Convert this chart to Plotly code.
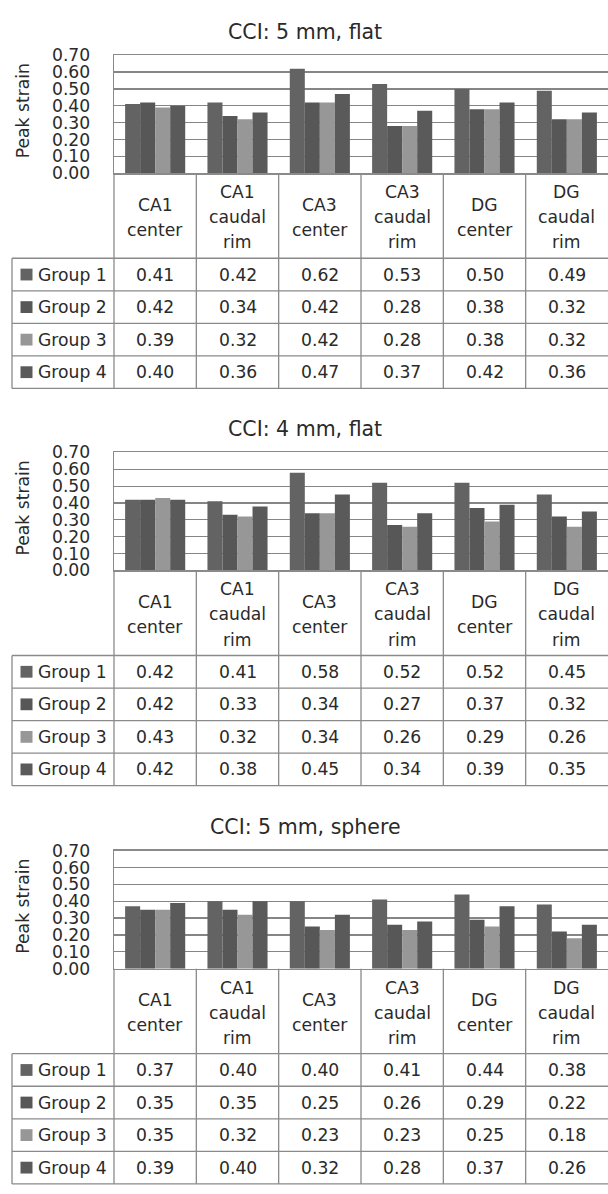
import plotly.graph_objects as go

# ---------------- data ----------------
categories = ["CA1 center", "CA1 caudal rim", "CA3 center", "CA3 caudal rim", "DG center", "DG caudal rim"]
header_lines = [["CA1", "center"], ["CA1", "caudal", "rim"], ["CA3", "center"],
                ["CA3", "caudal", "rim"], ["DG", "center"], ["DG", "caudal", "rim"]]
groups = ["Group 1", "Group 2", "Group 3", "Group 4"]
panel_titles = ["CCI: 5 mm, flat", "CCI: 4 mm, flat", "CCI: 5 mm, sphere"]
y_title = "Peak strain"
y_ticks = [0.0, 0.1, 0.2, 0.3, 0.4, 0.5, 0.6, 0.7]

flat5_g1 = [0.41, 0.42, 0.62, 0.53, 0.50, 0.49]
flat5_g2 = [0.42, 0.34, 0.42, 0.28, 0.38, 0.32]
flat5_g3 = [0.39, 0.32, 0.42, 0.28, 0.38, 0.32]
flat5_g4 = [0.40, 0.36, 0.47, 0.37, 0.42, 0.36]

flat4_g1 = [0.42, 0.41, 0.58, 0.52, 0.52, 0.45]
flat4_g2 = [0.42, 0.33, 0.34, 0.27, 0.37, 0.32]
flat4_g3 = [0.43, 0.32, 0.34, 0.26, 0.29, 0.26]
flat4_g4 = [0.42, 0.38, 0.45, 0.34, 0.39, 0.35]

sphere5_g1 = [0.37, 0.40, 0.40, 0.41, 0.44, 0.38]
sphere5_g2 = [0.35, 0.35, 0.25, 0.26, 0.29, 0.22]
sphere5_g3 = [0.35, 0.32, 0.23, 0.23, 0.25, 0.18]
sphere5_g4 = [0.39, 0.40, 0.32, 0.28, 0.37, 0.26]

panels = [
    [flat5_g1, flat5_g2, flat5_g3, flat5_g4],
    [flat4_g1, flat4_g2, flat4_g3, flat4_g4],
    [sphere5_g1, sphere5_g2, sphere5_g3, sphere5_g4],
]

# ---------------- style / layout ----------------
colors = ["#636363", "#575757", "#979797", "#5a5a5a"]
W, H = 608, 1194
TOPS = [46, 450, 855]
PLOT_H = 120
HEAD_H = 86.5
ROW_H = 33.1
X0 = 114
COL_W = (W - X0) / 6
LX0 = 12
LINE_C = "#8a8a8a"
GRID_C = "#858585"
TXT_C = "#2a2a2a"
FONT = "DejaVu Sans"
FS = 17.2


def px(x):
    return x / W


def py(y):
    return 1 - y / H


fig = go.Figure()
annotations = []
shapes = []
layout_axes = {}

for p, data in enumerate(panels):
    n = "" if p == 0 else str(p + 1)
    T = TOPS[p]
    for g in range(4):
        fig.add_trace(go.Bar(
            x=categories, y=data[g], name=groups[g],
            marker=dict(color=colors[g], line=dict(width=0)),
            xaxis="x" + n, yaxis="y" + n, showlegend=False,
        ))
    layout_axes["xaxis" + n] = dict(
        domain=[px(X0), 1], anchor="y" + n, showticklabels=False,
        showline=True, mirror=True, linecolor=LINE_C, linewidth=1.3,
        showgrid=False, range=[-0.5, 5.5], type="category",
        categoryorder="array", categoryarray=categories, fixedrange=True,
    )
    layout_axes["yaxis" + n] = dict(
        domain=[py(T + PLOT_H), py(T)], anchor="x" + n, range=[0, 0.7],
        tickvals=y_ticks, tickformat=".2f", showgrid=True, gridcolor=GRID_C,
        gridwidth=1.2, showline=True, linecolor=LINE_C, linewidth=1.3,
        zeroline=False, ticks="", ticklabelstandoff=19,
        tickfont=dict(family=FONT, size=FS, color=TXT_C), fixedrange=True,
    )

    # title
    annotations.append(dict(
        x=px(305), y=py(T - 24), xref="paper", yref="paper", text=panel_titles[p],
        showarrow=False, font=dict(family=FONT, size=20.5, color=TXT_C),
        xanchor="center", yanchor="middle",
    ))
    # y-axis title
    annotations.append(dict(
        x=px(23), y=py(T + 57), xref="paper", yref="paper", text=y_title,
        showarrow=False, textangle=-90, font=dict(family=FONT, size=FS, color=TXT_C),
        xanchor="center", yanchor="middle",
    ))

    # table geometry
    head_top = T + PLOT_H
    head_bot = head_top + HEAD_H
    tab_bot = head_bot + 4 * ROW_H
    for k in range(7):
        xk = X0 + k * COL_W
        if xk > W - 1:
            continue
        shapes.append(dict(type="line", xref="paper", yref="paper",
                           x0=px(xk), x1=px(xk), y0=py(head_top), y1=py(tab_bot),
                           line=dict(color=LINE_C, width=1.3)))
    shapes.append(dict(type="line", xref="paper", yref="paper",
                       x0=px(LX0), x1=px(LX0), y0=py(head_bot), y1=py(tab_bot),
                       line=dict(color=LINE_C, width=1.3)))
    for r in range(5):
        yr = head_bot + r * ROW_H
        shapes.append(dict(type="line", xref="paper", yref="paper",
                           x0=px(LX0), x1=1, y0=py(yr), y1=py(yr),
                           line=dict(color=LINE_C, width=1.3)))
    head_mid = (head_top + head_bot) / 2 + 1.5
    LS = 25.5
    for c, lines in enumerate(header_lines):
        cx = X0 + (c + 0.5) * COL_W
        nl = len(lines)
        for i, t in enumerate(lines):
            yy = head_mid + (i - (nl - 1) / 2) * LS
            annotations.append(dict(
                x=px(cx), y=py(yy), xref="paper", yref="paper", text=t,
                showarrow=False, font=dict(family=FONT, size=FS, color=TXT_C),
                xanchor="center", yanchor="middle",
            ))
    for g in range(4):
        ry = head_bot + (g + 0.5) * ROW_H
        shapes.append(dict(type="rect", xref="paper", yref="paper",
                           x0=px(20.5), x1=px(32.5), y0=py(ry + 6), y1=py(ry - 6),
                           fillcolor=colors[g], line=dict(width=0)))
        annotations.append(dict(
            x=px(36), y=py(ry), xref="paper", yref="paper", text=groups[g],
            showarrow=False, font=dict(family=FONT, size=FS, color=TXT_C),
            xanchor="left", yanchor="middle",
        ))
        for c in range(6):
            cx = X0 + (c + 0.5) * COL_W
            annotations.append(dict(
                x=px(cx), y=py(ry), xref="paper", yref="paper",
                text=f"{data[g][c]:.2f}",
                showarrow=False, font=dict(family=FONT, size=FS, color=TXT_C),
                xanchor="center", yanchor="middle",
            ))

fig.update_layout(
    width=W, height=H, margin=dict(l=0, r=0, t=0, b=0),
    paper_bgcolor="white", plot_bgcolor="white",
    barmode="group", bargap=0.27, bargroupgap=0,
    annotations=annotations, shapes=shapes, showlegend=False,
    **layout_axes,
)

fig.write_html(
    "out.html",
    config={"displayModeBar": False, "staticPlot": True},
    post_script="document.body.style.margin='0';document.body.style.overflow='hidden';",
)
